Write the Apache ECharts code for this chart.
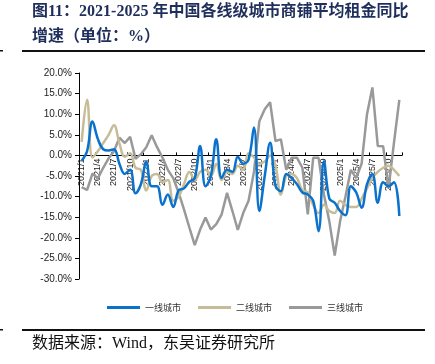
<!DOCTYPE html>
<html>
<head>
<meta charset="utf-8">
<script src="https://cdn.jsdelivr.net/npm/echarts@6/dist/echarts.min.js"></script>
<style>
  html, body { margin: 0; padding: 0; background: #fff; }
  #main { width: 435px; height: 364px; }
</style>
</head>
<body>
<div id="main"></div>
<script>
// 月份 2021/1 - 2025/12
var months = [];
for (var y = 2021; y <= 2025; y++) {
    for (var m = 1; m <= 12; m++) {
        months.push(y + '/' + m);
    }
}

var seriesNames = ['一线城市', '二线城市', '三线城市'];

// 一线城市
var tier1 = [-1.3, 1.0, 8.2, 4.0, 1.5, 1.2, 1.5, -2.0, -4.5, -3.5,
    -9.2, -7.0, -1.6, -7.5, -7.5, -12.0, -9.5, -12.5, -8.5, -8.0,
    -6.4, -5.5, 2.3, -7.5, -5.0, 3.9, -5.5, -3.5, -4.0, -0.3,
    -2.0, -1.0, 6.8, -13.5, -5.0, 3.1, -7.4, -8.7, -4.5, -5.5,
    -7.0, -9.0, -9.5, -11.0, -18.4, -1.4, -10.5, -11.5, -13.5, -14.5,
    -7.5, -9.0, -12.7, -7.0, -4.5, -11.5, -6.5, -7.5, -6.5, -14.7];
// 二线城市
var tier2 = [3.3, 13.5, -0.5, 1.0, 3.0, 5.0, 7.3, 3.0, -0.3, 0.5,
    -3.0, -3.5, -8.5, -5.0, -4.5, -6.5, -6.0, -11.0, -10.0, -7.0,
    -4.0, -6.0, -4.0, -3.5, -5.0, -2.0, -6.0, -4.0, -4.5, -2.5,
    -3.5, 0.5, -0.5, -2.0, -1.5, 0.0, -2.5, -9.5, -5.0, -4.5,
    -5.5, -8.5, -9.0, -12.0, -14.0, -12.0, -13.5, -14.0, -11.0, -12.0,
    -12.5, -12.5, -10.5, -8.0, -5.5, -4.0, -3.0, -2.5, -3.5, -5.0];
// 三线城市
var tier3 = [-7.7, -8.4, -4.4, -5.6, -3.0, -0.7, 1.0, 4.3, 3.0, 4.5,
    -0.8, 0.3, 2.0, 4.9, 2.0, -0.5, -3.5, -5.5, -9.0, -13.1,
    -17.5, -21.8, -18.0, -15.1, -18.0, -16.7, -14.3, -9.1, -13.5, -18.1,
    -14.0, -11.0, -4.0, 8.3, 11.2, 12.9, 3.5, 3.9, -3.5, -0.6,
    -0.6, -3.0, -14.3, -0.6, -0.6, -9.5, -16.0, -24.3, -16.0, -10.0,
    -3.5, -5.5, -2.0, 10.0, 16.5, 2.3, 2.2, -8.0, 3.0, 13.5];

var colors = ['#0a72cc', '#c6bd98', '#999999'];

var dom = document.getElementById('main');
var myChart = echarts.init(dom);
var titleFont = "'Liberation Serif', 'Noto Sans CJK SC', serif";

// 绘图区
var gridTop = 73, gridBottom = 85;
var yMin = -30, yMax = 20;
var plotH = 364 - gridTop - gridBottom;
// x轴放在0值处
var zeroOffset = -plotH * (0 - yMin) / (yMax - yMin);

var option = {
    animation: false,
    color: colors,
    grid: {
        left: 79,
        right: 33,
        top: gridTop,
        bottom: gridBottom
    },
    graphic: [
        {
            type: 'text', left: 32, top: 4,
            style: {
                text: '图11：2021-2025 年中国各线级城市商铺平均租金同比',
                font: 'bold 16px ' + titleFont,
                fill: '#1f2f5c'
            }
        },
        {
            type: 'text', left: 32, top: 29,
            style: {
                text: '增速（单位：%）',
                font: 'bold 16px ' + titleFont,
                fill: '#1f2f5c'
            }
        },
        // 上下分隔线
        {type: 'rect', shape: {x: 22, y: 50, width: 403, height: 2}, style: {fill: '#111'}},
        {type: 'rect', shape: {x: 0, y: 50, width: 3, height: 1.5}, style: {fill: '#111'}},
        {type: 'rect', shape: {x: 22, y: 329, width: 403, height: 2}, style: {fill: '#111'}},
        {type: 'rect', shape: {x: 0, y: 329, width: 3, height: 1.5}, style: {fill: '#111'}},
        {
            type: 'text', left: 32, top: 336,
            style: {
                text: '数据来源：Wind，东吴证券研究所',
                font: '16px ' + titleFont,
                fill: '#111'
            }
        }
    ],
    legend: {
        data: seriesNames,
        top: 298,
        left: 102,
        itemWidth: 33,
        itemHeight: 3,
        itemGap: 17,
        icon: 'rect',
        textStyle: {
            fontSize: 9,
            color: '#333',
            fontFamily: "'Noto Sans CJK SC', sans-serif"
        }
    },
    xAxis: {
        type: 'category',
        data: months,
        offset: zeroOffset,
        axisLine: {
            onZero: false,
            lineStyle: {color: '#000', width: 1}
        },
        axisTick: {
            show: true,
            interval: 2,
            length: 3,
            inside: true,
            lineStyle: {color: '#000'}
        },
        axisLabel: {
            interval: 2,
            rotate: 90,
            fontSize: 9,
            color: '#222',
            margin: 3,
            fontFamily: "'Liberation Sans', sans-serif"
        },
        splitLine: {show: false}
    },
    yAxis: {
        type: 'value',
        min: yMin,
        max: yMax,
        interval: 5,
        axisLine: {
            show: true,
            lineStyle: {color: '#000', width: 1}
        },
        axisTick: {
            show: true,
            length: 4,
            lineStyle: {color: '#000'}
        },
        axisLabel: {
            fontSize: 10,
            color: '#222',
            margin: 7,
            fontFamily: "'Liberation Sans', sans-serif",
            formatter: function (v) { return v.toFixed(1) + '%'; }
        },
        splitLine: {show: false}
    },
    series: [
        {
            name: seriesNames[0],
            type: 'line',
            data: tier1,
            smooth: 0.4,
            symbol: 'none',
            lineStyle: {width: 2.5},
            z: 4
        },
        {
            name: seriesNames[1],
            type: 'line',
            data: tier2,
            smooth: 0.4,
            symbol: 'none',
            lineStyle: {width: 2.5},
            z: 3
        },
        {
            name: seriesNames[2],
            type: 'line',
            data: tier3,
            symbol: 'none',
            lineStyle: {width: 2.5},
            z: 2
        }
    ]
};

myChart.setOption(option, true);
</script>
</body>
</html>
